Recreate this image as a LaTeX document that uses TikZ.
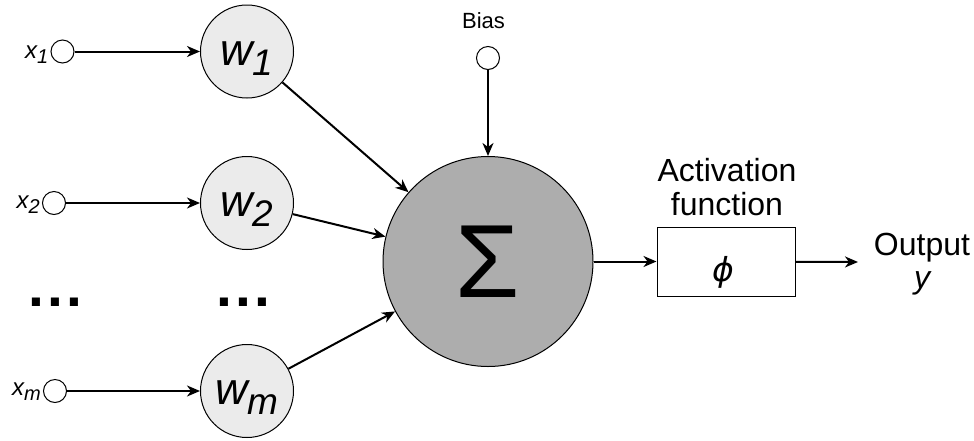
\documentclass[tikz,border=0pt]{standalone}
\usepackage{fontspec}
\setmainfont{Liberation Sans}
\newfontfamily\dejavu{DejaVu Sans}
\usetikzlibrary{arrows.meta,calc}
\newcommand{\fsz}[1]{\fontsize{#1}{#1}\selectfont}
\newcommand{\lsub}[3]{\raisebox{-#2pt}{\fsz{#1}#3}}
\definecolor{wfill}{HTML}{EBEBEB}
\definecolor{sfill}{HTML}{ADADAD}
\begin{document}
\begin{tikzpicture}[x=1pt,y=-1pt,
  inp/.style={circle,draw,line width=1pt,fill=white,minimum size=23pt,inner sep=0pt},
  wgt/.style={circle,draw,line width=1pt,fill=wfill,minimum size=93pt,inner sep=0pt},
  con/.style={line width=2pt,-{Stealth[length=13pt,width=11pt,inset=4pt]}},
  xlab/.style={anchor=base east,inner sep=0pt,font=\fsz{24}\itshape},
  wlab/.style={anchor=base,inner sep=0pt,font=\fsz{45}\itshape},
  dots/.style={inner sep=0pt,font=\fsz{57}\bfseries},
  txt/.style={inner sep=0pt,font=\fsz{32}}]
\useasboundingbox (0,0) rectangle (974,440);

% inputs
\node[inp] (x1) at (62.5,51.5) {};
\node[inp] (x2) at (54,203) {};
\node[inp] (xm) at (55,391) {};
\node[xlab] (lx1) at ($(x1.west)+(-2,7)$) {x\lsub{20}{5}{1}};
\node[xlab] (lx2) at ($(x2.west)+(-2,5)$) {x\lsub{20}{5}{2}};
\node[xlab] (lxm) at ($(xm.west)+(-2,4)$) {x\lsub{20}{5}{m}};

% weights
\node[wgt] (w1) at (247,51.5) {};
\node[wgt] (w2) at (247,203) {};
\node[wgt] (wm) at (247,391) {};
\node[wlab] (lw1) at ($(w1.center)+(0,13.5)$) {w\lsub{37}{10}{1}};
\node[wlab] (lw2) at ($(w2.center)+(0,13.5)$) {w\lsub{37}{10}{2}};
\node[wlab] (lwm) at ($(wm.center)+(0,13.5)$) {w\lsub{37}{10}{m}};

% dots
\node[dots] (d1) at (55,302) {.\hspace{3.2pt}.\hspace{3.2pt}.};
\node[dots] (d2) at (243,302) {.\hspace{3.2pt}.\hspace{3.2pt}.};

% sum
\node[circle,draw,line width=1pt,fill=sfill,minimum size=210pt,inner sep=0pt,font=\fsz{104}] (sum) at (488,261.5) {Σ};

% bias
\node[inp] (b) at (488,58) {};
\node[inner sep=0pt,anchor=base,font=\fsz{22}] (lb) at (483.5,28) {Bias};

% activation
\node[draw,line width=1pt,fill=white,minimum width=138pt,minimum height=69pt,inner sep=0pt] (act) at (726,261.5) {};
\node[inner sep=0pt,font=\fsz{33}\dejavu\itshape] (phi) at (723,272) {ϕ};
\node[txt,align=center] (lact) at (727,187.5) {Activation\\[2pt]function};
\coordinate (out) at (858,262);
\node[txt,align=center] (lout) at (922,264) {Output\\[1pt]\itshape y};

% connectors
\draw[con] (x1) -- (w1);
\draw[con] (x2) -- (w2);
\draw[con] (xm) -- (wm);
\draw[con] (w1) -- (sum);
\draw[con] (w2) -- (sum);
\draw[con] (wm) -- (sum);
\draw[con] (b) -- (sum);
\draw[con] (sum) -- (act);
\draw[con] (act) -- (out);
\end{tikzpicture}
\end{document}
